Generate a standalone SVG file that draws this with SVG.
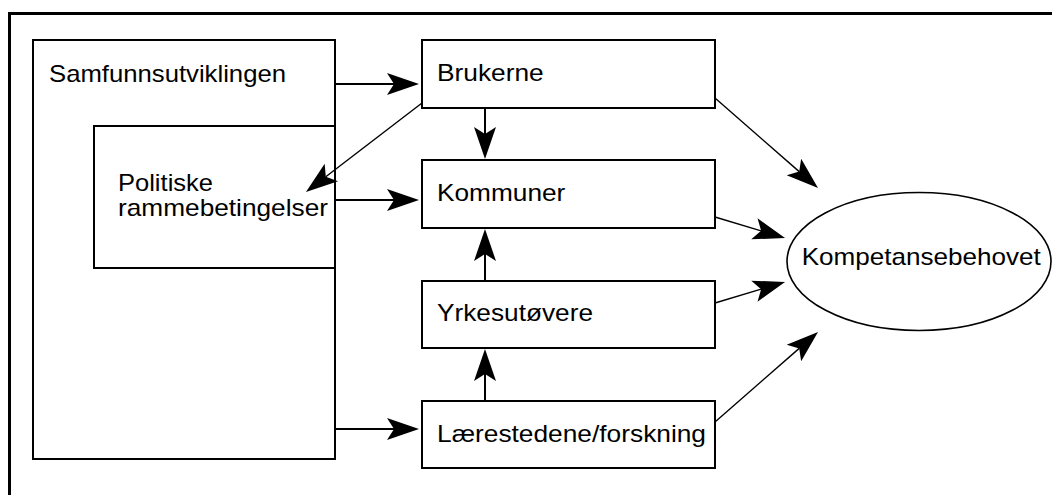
<svg xmlns="http://www.w3.org/2000/svg" width="1052" height="495" viewBox="0 0 1052 495">
<style>
.box{fill:#fff;stroke:#000;stroke-width:2}
.lbl{font-family:"Liberation Sans",Arial,Helvetica,sans-serif;font-size:24px;fill:#000}
.thick{stroke:#000;stroke-width:2;fill:none}
.thin{stroke:#000;stroke-width:1.4;fill:none}
</style>
<defs>
<marker id="ah" markerUnits="userSpaceOnUse" markerWidth="34" markerHeight="24" viewBox="-33 -12 34 24" refX="-25" refY="0" orient="auto">
<path d="M0,0 L-32,-11 L-25,0 L-32,11 Z" fill="#000"/>
</marker>
</defs>
<rect width="1052" height="495" fill="#fff"/>
<path d="M9.5,496 V13.5 H1053" fill="none" stroke="#000" stroke-width="3"/>
<g id="samfunnsutviklingen">
<rect class="box" x="33" y="40" width="302" height="419"/>
<text class="lbl" x="49" y="82" textLength="237" lengthAdjust="spacingAndGlyphs">Samfunnsutviklingen</text>
</g>
<g id="politiske">
<rect class="box" x="94" y="126" width="241" height="142"/>
<text class="lbl" x="118" y="190.5" textLength="95" lengthAdjust="spacingAndGlyphs">Politiske</text>
<text class="lbl" x="118" y="215.5" textLength="210" lengthAdjust="spacingAndGlyphs">rammebetingelser</text>
</g>
<g id="brukerne">
<rect class="box" x="422" y="40" width="293" height="68"/>
<text class="lbl" x="437" y="80.7" textLength="106.7" lengthAdjust="spacingAndGlyphs">Brukerne</text>
</g>
<g id="kommuner">
<rect class="box" x="422" y="160" width="293" height="68"/>
<text class="lbl" x="437" y="200.7" textLength="128.3" lengthAdjust="spacingAndGlyphs">Kommuner</text>
</g>
<g id="yrkesutovere">
<rect class="box" x="422" y="281" width="293" height="67"/>
<text class="lbl" x="437" y="321" textLength="156" lengthAdjust="spacingAndGlyphs">Yrkesutøvere</text>
</g>
<g id="larestedene">
<rect class="box" x="422" y="401" width="293" height="67"/>
<text class="lbl" x="437" y="441.7" textLength="269" lengthAdjust="spacingAndGlyphs">Lærestedene/forskning</text>
</g>
<g id="kompetansebehovet">
<ellipse cx="919" cy="261.5" rx="132" ry="69" fill="#fff" stroke="#000" stroke-width="1.6"/>
<text class="lbl" x="801.7" y="265" textLength="239" lengthAdjust="spacingAndGlyphs">Kompetansebehovet</text>
</g>
<g id="connectors">
<line class="thick" x1="336" y1="84" x2="394" y2="84" marker-end="url(#ah)"/>
<line class="thick" x1="336" y1="200" x2="394" y2="200" marker-end="url(#ah)"/>
<line class="thick" x1="336" y1="429" x2="394" y2="429" marker-end="url(#ah)"/>
<line class="thick" x1="485" y1="109" x2="485" y2="134" marker-end="url(#ah)"/>
<line class="thick" x1="485" y1="280" x2="485" y2="254" marker-end="url(#ah)"/>
<line class="thick" x1="485" y1="400" x2="485" y2="374" marker-end="url(#ah)"/>
<line class="thin" x1="422" y1="103" x2="325.8" y2="176.8" marker-end="url(#ah)"/>
<line class="thin" x1="715" y1="98" x2="799.2" y2="171.6" marker-end="url(#ah)"/>
<line class="thin" x1="715" y1="217" x2="761.1" y2="230.8" marker-end="url(#ah)"/>
<line class="thin" x1="715" y1="303" x2="761.1" y2="289.2" marker-end="url(#ah)"/>
<line class="thin" x1="715" y1="422" x2="799.2" y2="348.4" marker-end="url(#ah)"/>
</g>
</svg>
